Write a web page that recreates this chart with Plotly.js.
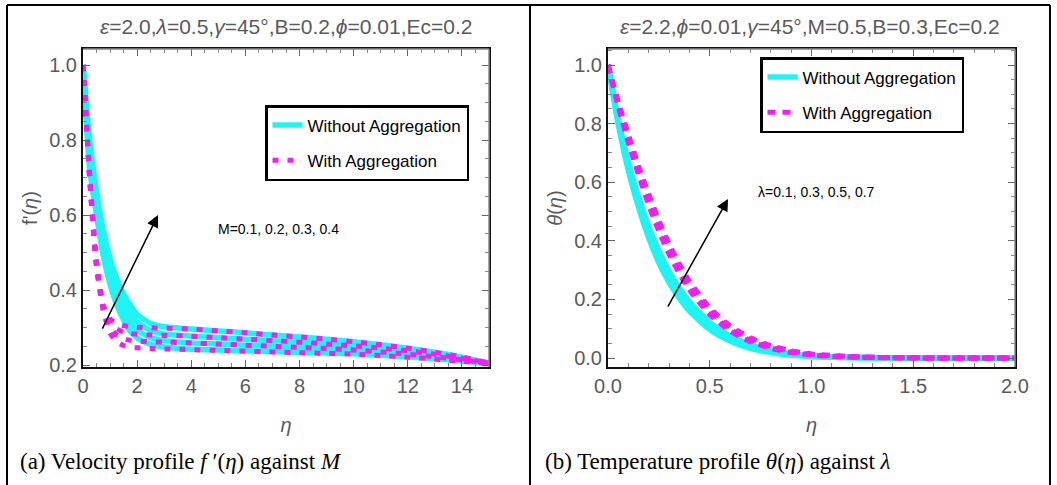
<!DOCTYPE html>
<html>
<head>
<meta charset="utf-8">
<script src="https://cdn.plot.ly/plotly-3.0.1.min.js"></script>
<style>html,body{margin:0;padding:0;background:#fff;}#chart{width:1057px;height:485px;}</style>
</head>
<body>
<div id="chart"></div>
<script>
// ---------- Panel (a): velocity profile f'(eta) against M ----------
const etaA = [0,0.25,0.5,0.75,1,1.25,1.5,1.75,2,2.5,3,4,5,6,7,8,9,10,11,12,13,14,15];
const velNoAgg_M01 = [1.0,0.72,0.60,0.49,0.415,0.36,0.32,0.29,0.272,0.255,0.248,0.242,0.240,0.238,0.236,0.234,0.232,0.230,0.226,0.222,0.217,0.211,0.204];
const velNoAgg_M02 = [1.0,0.75,0.62,0.515,0.44,0.385,0.345,0.315,0.293,0.273,0.265,0.259,0.256,0.253,0.250,0.247,0.244,0.240,0.235,0.229,0.222,0.214,0.205];
const velNoAgg_M03 = [1.0,0.775,0.645,0.54,0.465,0.41,0.37,0.34,0.315,0.292,0.283,0.277,0.273,0.269,0.265,0.261,0.256,0.251,0.245,0.238,0.229,0.218,0.205];
const velNoAgg_M04 = [1.0,0.80,0.665,0.56,0.485,0.43,0.39,0.36,0.335,0.311,0.302,0.296,0.291,0.286,0.280,0.275,0.269,0.262,0.254,0.245,0.234,0.221,0.205];
const velAgg_M01 = [1.0,0.69,0.46,0.345,0.285,0.262,0.252,0.248,0.246,0.244,0.243,0.241,0.239,0.237,0.235,0.233,0.231,0.229,0.225,0.221,0.216,0.210,0.204];
const velAgg_M02 = [1.0,0.695,0.465,0.35,0.30,0.28,0.27,0.266,0.264,0.262,0.261,0.259,0.256,0.253,0.250,0.247,0.244,0.240,0.235,0.229,0.222,0.214,0.205];
const velAgg_M03 = [1.0,0.70,0.47,0.355,0.312,0.296,0.288,0.284,0.282,0.280,0.279,0.277,0.273,0.269,0.265,0.261,0.256,0.251,0.245,0.238,0.229,0.218,0.205];
const velAgg_M04 = [1.0,0.705,0.475,0.36,0.323,0.311,0.305,0.302,0.301,0.299,0.298,0.296,0.291,0.286,0.280,0.275,0.269,0.262,0.254,0.245,0.234,0.221,0.205];

// ---------- Panel (b): temperature profile theta(eta) against lambda ----------
const etaB = [0,0.05,0.1,0.15,0.2,0.25,0.3,0.35,0.4,0.5,0.6,0.7,0.8,0.9,1.0,1.2,1.4,1.6,1.8,2.0];
const tempNoAgg_L01 = [1.0,0.80,0.64,0.515,0.41,0.325,0.258,0.204,0.16,0.097,0.058,0.033,0.019,0.010,0.005,0.0015,0.0005,0,0,0];
const tempNoAgg_L03 = [1.0,0.805,0.65,0.525,0.422,0.338,0.27,0.215,0.17,0.105,0.063,0.037,0.021,0.011,0.006,0.002,0.0006,0,0,0];
const tempNoAgg_L05 = [1.0,0.812,0.66,0.537,0.436,0.352,0.283,0.227,0.181,0.113,0.069,0.041,0.024,0.013,0.007,0.002,0.0007,0.0002,0,0];
const tempNoAgg_L07 = [1.0,0.818,0.67,0.55,0.45,0.366,0.297,0.24,0.193,0.122,0.075,0.045,0.027,0.015,0.008,0.0025,0.0008,0.0002,0,0];
const tempAgg_L01 = [1.0,0.86,0.735,0.625,0.522,0.432,0.354,0.288,0.232,0.148,0.092,0.056,0.033,0.019,0.010,0.003,0.001,0,0,0];
const tempAgg_L03 = [1.0,0.865,0.745,0.635,0.535,0.445,0.366,0.299,0.241,0.156,0.098,0.06,0.036,0.021,0.011,0.0035,0.001,0.0003,0,0];
const tempAgg_L05 = [1.0,0.87,0.755,0.645,0.547,0.458,0.378,0.31,0.251,0.164,0.104,0.064,0.039,0.023,0.012,0.004,0.0012,0.0003,0,0];
const tempAgg_L07 = [1.0,0.875,0.764,0.656,0.56,0.47,0.39,0.322,0.262,0.172,0.11,0.069,0.042,0.025,0.014,0.0045,0.0014,0.0004,0,0];

const legendNames = ['Without Aggregation','With Aggregation'];
const titleA = '<i>ε</i>=2.0,<i>λ</i>=0.5,<i>γ</i>=45°,B=0.2,<i>ϕ</i>=0.01,Ec=0.2';
const titleB = '<i>ε</i>=2.2,<i>ϕ</i>=0.01,<i>γ</i>=45°,M=0.5,B=0.3,Ec=0.2';
const labelA = 'M=0.1, 0.2, 0.3, 0.4';
const labelB = 'λ=0.1, 0.3, 0.5, 0.7';
const captionA = '(a) Velocity profile <i>f</i> ′(<i>η</i>) against <i>M</i>';
const captionB = '(b) Temperature profile <i>θ</i>(<i>η</i>) against <i>λ</i>';

const CYAN = '#1EF4F4', MAG = '#F21EF2';
const W = 1057, H = 485;
const px = v => v / W, py = v => 1 - v / H;

const traces = [];
function addSet(x, ys, color, dash, width, xa, ya, leg, name) {
  ys.forEach((y, i) => {
    traces.push({
      type: 'scatter', mode: 'lines', x: x, y: y, xaxis: xa, yaxis: ya,
      name: name, legend: leg, legendgroup: leg + name, showlegend: i === 0,
      line: {color: color, width: width, dash: dash, shape: 'spline', smoothing: 0.6},
      hoverinfo: 'skip'
    });
  });
}
addSet(etaA, [velNoAgg_M01, velNoAgg_M02, velNoAgg_M03, velNoAgg_M04], CYAN, 'solid', 5.5, 'x', 'y', 'legend', legendNames[0]);
addSet(etaA, [velAgg_M01, velAgg_M02, velAgg_M03, velAgg_M04], MAG, '6px,9px', 5, 'x', 'y', 'legend', legendNames[1]);
addSet(etaB, [tempNoAgg_L01, tempNoAgg_L03, tempNoAgg_L05, tempNoAgg_L07], CYAN, 'solid', 5.5, 'x2', 'y2', 'legend2', legendNames[0]);
addSet(etaB, [tempAgg_L01, tempAgg_L03, tempAgg_L05, tempAgg_L07], MAG, '8px,7px', 5, 'x2', 'y2', 'legend2', legendNames[1]);

const FONT = 'Liberation Sans, Arial, sans-serif';
const GRAY = '#5a5a5a';
const tickFont = {family: FONT, size: 20, color: GRAY};
function ax(o) {
  return Object.assign({
    showgrid: false, zeroline: false, showline: true, linecolor: '#111', linewidth: 2,
    mirror: 'ticks', ticks: 'inside', ticklen: 7, tickwidth: 1, tickcolor: '#666',
    tickfont: tickFont, fixedrange: true
  }, o);
}

const xA = [83, 489], xB = [608, 1015], yTop = 49, yBot = 367;

const layout = {
  width: W, height: H,
  margin: {l: 0, r: 0, t: 0, b: 0},
  paper_bgcolor: '#fff', plot_bgcolor: '#fff',
  font: {family: FONT},
  xaxis: ax({domain: [px(xA[0]), px(xA[1])], anchor: 'y', range: [0, 15], tick0: 0, dtick: 2,
    minor: {dtick: 0.5, ticks: 'inside', ticklen: 4, tickcolor: '#888'},
    title: {text: '<i>η</i>', font: {family: FONT, size: 20, color: GRAY}, standoff: 22}}),
  yaxis: ax({domain: [py(yBot), py(yTop)], anchor: 'x', range: [0.1947, 1.0427], tick0: 0.2, dtick: 0.2, tickformat: '.1f',
    minor: {dtick: 0.05, ticks: 'inside', ticklen: 4, tickcolor: '#888'},
    title: {text: "f'(<i>η</i>)", font: {family: FONT, size: 20, color: GRAY}, standoff: 6}}),
  xaxis2: ax({domain: [px(xB[0]), px(xB[1])], anchor: 'y2', range: [0, 2], tick0: 0, dtick: 0.5, tickformat: '.1f',
    minor: {dtick: 0.1, ticks: 'inside', ticklen: 4, tickcolor: '#888'},
    title: {text: '<i>η</i>', font: {family: FONT, size: 20, color: GRAY}, standoff: 22}}),
  yaxis2: ax({domain: [py(yBot), py(yTop)], anchor: 'x2', range: [-0.0307, 1.0546], tick0: 0, dtick: 0.2, tickformat: '.1f',
    minor: {dtick: 0.05, ticks: 'inside', ticklen: 4, tickcolor: '#888'},
    title: {text: '<i>θ</i>(<i>η</i>)', font: {family: FONT, size: 20, color: GRAY}, standoff: 6}}),
  legend: {x: px(265), y: py(105), xanchor: 'left', yanchor: 'top', bgcolor: '#fff',
    bordercolor: '#000', borderwidth: 2.5, font: {family: FONT, size: 17, color: '#000'},
    traceorder: 'grouped', tracegroupgap: 10, itemwidth: 30},
  legend2: {x: px(760), y: py(57), xanchor: 'left', yanchor: 'top', bgcolor: '#fff',
    bordercolor: '#000', borderwidth: 2.5, font: {family: FONT, size: 17, color: '#000'},
    traceorder: 'grouped', tracegroupgap: 10, itemwidth: 30},
  shapes: [
    {type: 'line', xref: 'paper', yref: 'paper', x0: px(xA[0]), x1: px(xA[1]), y0: py(yTop), y1: py(yTop), line: {color: '#8a8a8a', width: 1.5}},
    {type: 'line', xref: 'paper', yref: 'paper', x0: px(xA[1]), x1: px(xA[1]), y0: py(yTop), y1: py(yBot), line: {color: '#8a8a8a', width: 1.5}},
    {type: 'line', xref: 'paper', yref: 'paper', x0: px(xB[0]), x1: px(xB[1]), y0: py(yTop), y1: py(yTop), line: {color: '#8a8a8a', width: 1.5}},
    {type: 'line', xref: 'paper', yref: 'paper', x0: px(xB[1]), x1: px(xB[1]), y0: py(yTop), y1: py(yBot), line: {color: '#8a8a8a', width: 1.5}},
    {type: 'line', xref: 'paper', yref: 'paper', x0: px(7), x1: px(1050), y0: py(5), y1: py(5), line: {color: '#000', width: 2}},
    {type: 'line', xref: 'paper', yref: 'paper', x0: px(7), x1: px(7), y0: py(5), y1: 0, line: {color: '#000', width: 2}},
    {type: 'line', xref: 'paper', yref: 'paper', x0: px(530), x1: px(530), y0: py(5), y1: 0, line: {color: '#000', width: 2}},
    {type: 'line', xref: 'paper', yref: 'paper', x0: px(1050), x1: px(1050), y0: py(5), y1: 0, line: {color: '#000', width: 2}}
  ],
  annotations: [
    {xref: 'paper', yref: 'paper', x: px(286), y: py(26), text: titleA, showarrow: false, xanchor: 'center', yanchor: 'middle',
      font: {family: FONT, size: 21, color: GRAY}},
    {xref: 'paper', yref: 'paper', x: px(810), y: py(26), text: titleB, showarrow: false, xanchor: 'center', yanchor: 'middle',
      font: {family: FONT, size: 21, color: GRAY}},
    {xref: 'x', yref: 'y', x: 7.24, y: 0.563, text: labelA, showarrow: false, font: {family: FONT, size: 14, color: '#000'}},
    {xref: 'x2', yref: 'y2', x: 1.027, y: 0.567, text: labelB, showarrow: false, font: {family: FONT, size: 14, color: '#000'}},
    {xref: 'x', yref: 'y', axref: 'x', ayref: 'y', x: 2.77, y: 0.60, ax: 0.69, ay: 0.293, text: '', showarrow: true,
      arrowhead: 2, arrowsize: 1.6, arrowwidth: 1.5, arrowcolor: '#000'},
    {xref: 'x2', yref: 'y2', axref: 'x2', ayref: 'y2', x: 0.59, y: 0.543, ax: 0.29, ay: 0.17, text: '', showarrow: true,
      arrowhead: 2, arrowsize: 1.6, arrowwidth: 1.5, arrowcolor: '#000'},
    {xref: 'paper', yref: 'paper', x: px(18), y: py(461), xanchor: 'left', yanchor: 'middle', text: captionA, showarrow: false,
      font: {family: 'Liberation Serif, Times New Roman, serif', size: 23, color: '#000'}},
    {xref: 'paper', yref: 'paper', x: px(543), y: py(461), xanchor: 'left', yanchor: 'middle', text: captionB, showarrow: false,
      font: {family: 'Liberation Serif, Times New Roman, serif', size: 23, color: '#000'}}
  ]
};

Plotly.newPlot('chart', traces, layout, {staticPlot: true, displayModeBar: false});
</script>
</body>
</html>
